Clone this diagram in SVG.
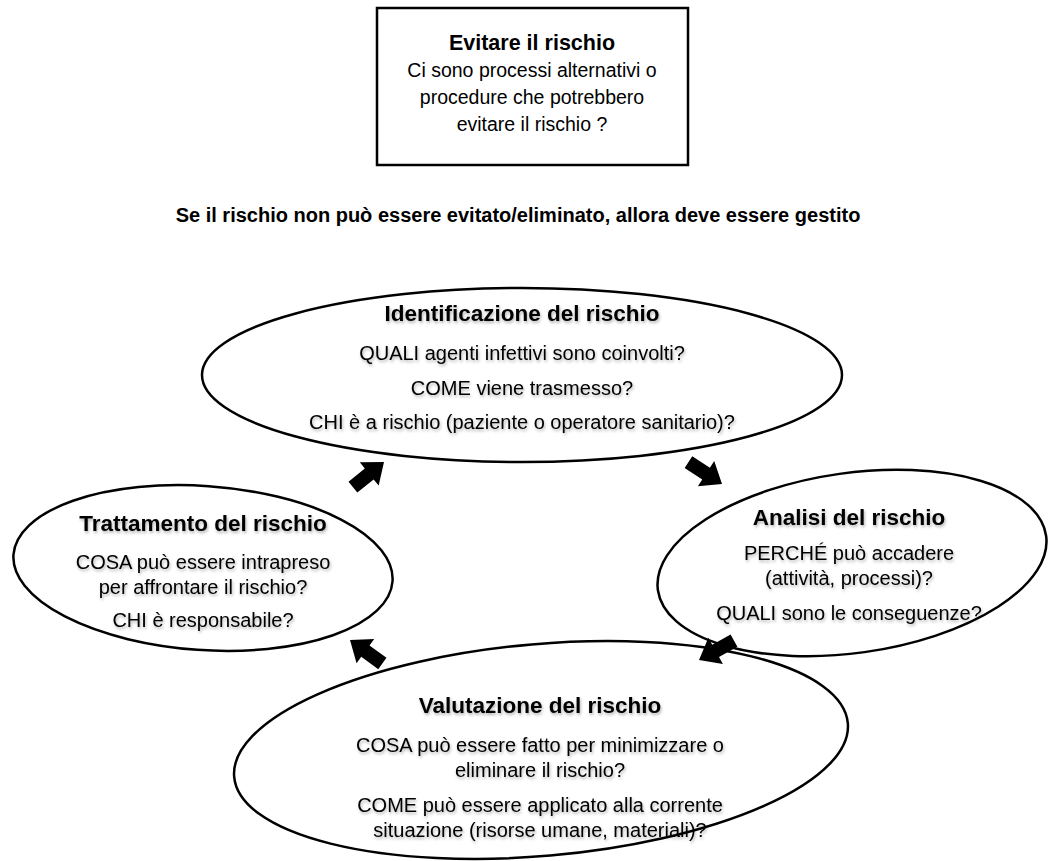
<svg xmlns="http://www.w3.org/2000/svg" width="1049" height="861" viewBox="0 0 1049 861">
<style>
.t{font-family:"Liberation Sans",Arial,sans-serif;fill:#000;text-anchor:middle}
.h{font-size:22.5px;font-weight:bold}
.b{font-size:20px}
.sh{filter:url(#sh)}
.el{fill:#fff;stroke:#000;stroke-width:2.5}
</style>
<defs>
<filter id="sh" x="-10%" y="-30%" width="120%" height="160%">
<feDropShadow dx="1" dy="2" stdDeviation="1.5" flood-color="#000" flood-opacity="0.3"/>
</filter>
<path id="arr" d="M-40,-7 L-19,-7 L-19,-15 L0,0 L-19,15 L-19,7 L-40,7 Z" fill="#000"/>
</defs>
<rect width="1049" height="861" fill="#fff"/>
<g id="evitare">
<rect x="377" y="8" width="311" height="157" fill="#fff" stroke="#000" stroke-width="2.5"/>
<text class="t" x="532" y="50" font-size="21.5" font-weight="bold">Evitare il rischio</text>
<text class="t" x="532" y="77" font-size="19.5">Ci sono processi alternativi o</text>
<text class="t" x="532" y="104" font-size="19.5">procedure che potrebbero</text>
<text class="t" x="532" y="131" font-size="19.5">evitare il rischio ?</text>
</g>
<g id="subtitle">
<text class="t" x="518" y="222" font-size="20" font-weight="bold">Se il rischio non può essere evitato/eliminato, allora deve essere gestito</text>
</g>
<g id="identificazione">
<ellipse class="el" cx="522" cy="375" rx="320" ry="87"/>
<g class="sh">
<text class="t h" x="522" y="321">Identificazione del rischio</text>
<text class="t b" x="522" y="360">QUALI agenti infettivi sono coinvolti?</text>
<text class="t b" x="522" y="395">COME viene trasmesso?</text>
<text class="t b" x="522" y="429">CHI è a rischio (paziente o operatore sanitario)?</text>
</g>
</g>
<g id="trattamento">
<ellipse class="el" cx="203" cy="568" rx="190" ry="82" transform="rotate(4 203 568)"/>
<g class="sh">
<text class="t h" x="203" y="531">Trattamento del rischio</text>
<text class="t b" x="203" y="569">COSA può essere intrapreso</text>
<text class="t b" x="203" y="594">per affrontare il rischio?</text>
<text class="t b" x="203" y="627">CHI è responsabile?</text>
</g>
</g>
<g id="analisi">
<ellipse class="el" cx="852" cy="563" rx="196" ry="90" transform="rotate(-8 852 563)"/>
<g class="sh">
<text class="t h" x="849" y="525">Analisi del rischio</text>
<text class="t b" x="849" y="560">PERCHÉ può accadere</text>
<text class="t b" x="849" y="585">(attività, processi)?</text>
<text class="t b" x="849" y="620">QUALI sono le conseguenze?</text>
</g>
</g>
<g id="valutazione">
<ellipse class="el" cx="541" cy="750" rx="308" ry="106" transform="rotate(-5 541 750)"/>
<g class="sh">
<text class="t h" x="540" y="713">Valutazione del rischio</text>
<text class="t b" x="540" y="752">COSA può essere fatto per minimizzare o</text>
<text class="t b" x="540" y="777">eliminare il rischio?</text>
<text class="t b" x="540" y="812">COME può essere applicato alla corrente</text>
<text class="t b" x="540" y="837">situazione (risorse umane, materiali)?</text>
</g>
</g>
<g id="connectors">
<use href="#arr" transform="translate(384 462) rotate(-39)"/>
<use href="#arr" transform="translate(722 484) rotate(33)"/>
<use href="#arr" transform="translate(699 660) rotate(151)"/>
<use href="#arr" transform="translate(350 640) rotate(-144)"/>
</g>
</svg>
